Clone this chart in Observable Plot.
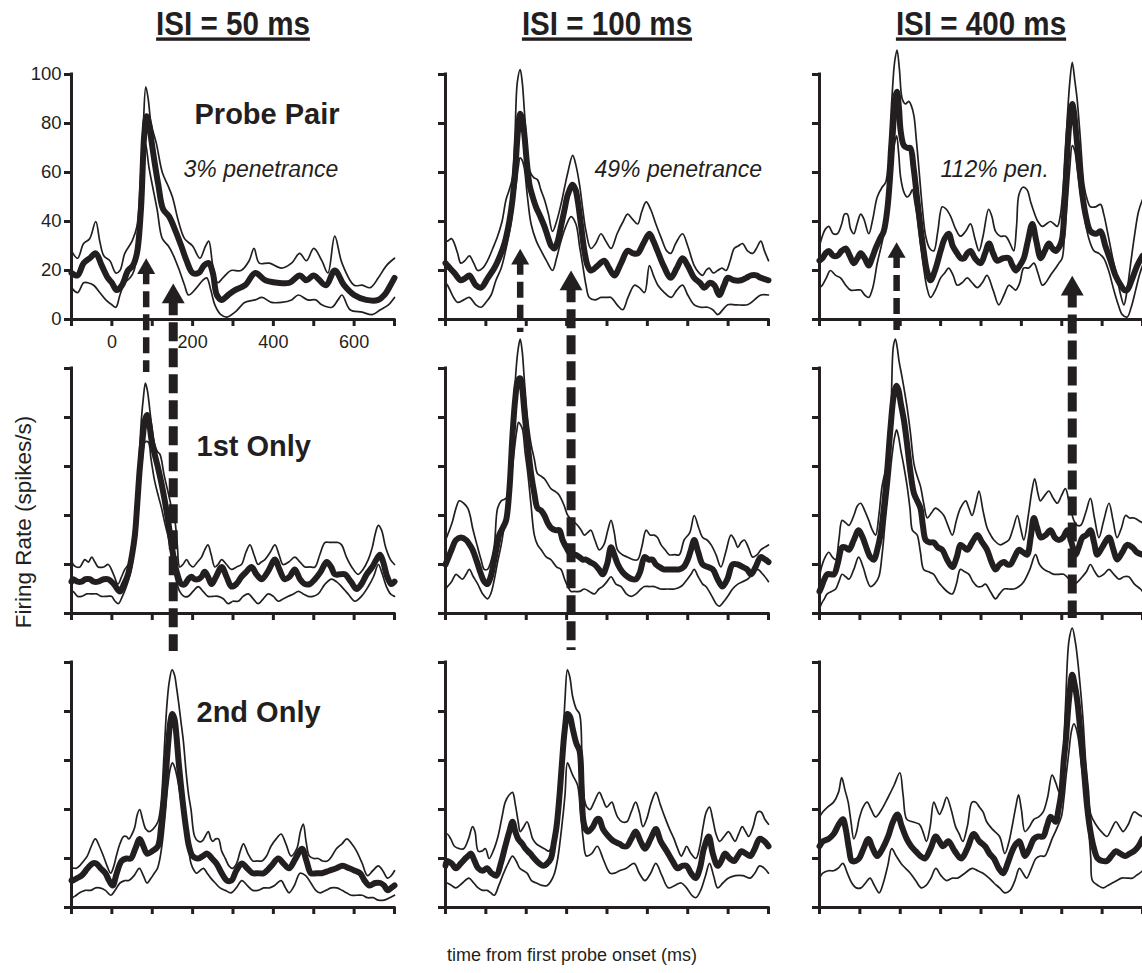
<!DOCTYPE html>
<html><head><meta charset="utf-8">
<script src="https://cdn.jsdelivr.net/npm/d3@7"></script>
<script src="https://cdn.jsdelivr.net/npm/@observablehq/plot@0.6"></script>
<style>
html,body{margin:0;padding:0;background:#fff;}
#chart svg{display:block;}
g[aria-description="isi-title"] text{ text-decoration: underline; text-decoration-thickness: 3px; text-underline-offset: 4px; }
</style></head><body><div id="chart"></div>
<script>
// ---------- categories & ticks ----------
const isiValues = [50, 100, 400];
const conditions = ["Probe Pair", "1st Only", "2nd Only"];
const penetranceLabels = ["3% penetrance", "49% penetrance", "112% pen."];
const xTicks = [-100, 0, 100, 200, 300, 400, 500, 600, 700];
const xTickLabels = [0, 200, 400, 600];
const yTicks = [0, 20, 40, 60, 80, 100];
const xTitle = "time from first probe onset (ms)";
const yTitle = "Firing Rate (spikes/s)";

// ---------- series: [time (ms), firing rate (spikes/s)] ----------
// Probe Pair, ISI 50
const pair50Mean = [[-100,19],[-85,18],[-70,23],[-55,25],[-40,27],[-25,22],[-10,17],[0,15],[12,12],[25,14],[40,20],[52,22],[62,27],[72,45],[80,75],[86,83],[92,80],[98,73],[106,64],[115,55],[127,45],[142,42],[158,36],[172,30],[185,24],[200,19],[215,19],[228,22],[240,23],[250,19],[260,10],[272,8],[288,10],[305,12],[330,14],[355,19],[380,16],[410,15],[440,15],[465,18],[482,16],[500,18],[530,14],[552,20],[575,14],[600,10],[630,8],[660,8],[675,10],[690,14],[700,17]];
const pair50Upper = [[-100,28],[-85,25],[-70,31],[-55,33],[-40,40],[-30,32],[-20,26],[-5,24],[10,19],[20,20],[32,27],[50,32],[62,38],[70,55],[78,80],[84,95],[90,90],[97,80],[110,72],[125,60],[138,55],[150,50],[165,40],[180,33],[200,30],[218,25],[232,30],[240,32],[250,22],[262,15],[275,17],[295,20],[320,20],[340,24],[352,29],[365,23],[390,23],[420,21],[445,23],[465,27],[482,24],[500,29],[520,24],[535,19],[552,34],[570,23],[600,14],[620,14],[640,13],[660,17],[680,22],[700,25]];
const pair50Lower = [[-100,13],[-85,11],[-70,15],[-60,15],[-45,14],[-30,11],[-15,8],[0,6],[10,5],[20,10],[32,15],[45,17],[55,20],[65,33],[75,58],[83,72],[92,62],[100,55],[112,45],[125,33],[140,30],[150,27],[165,21],[180,14],[190,10],[210,13],[225,16],[235,17],[245,12],[255,6],[270,2],[285,1],[305,3],[330,7],[355,8],[372,9],[395,7],[420,7],[445,8],[462,10],[485,8],[505,8],[520,6],[545,5],[560,8],[570,10],[590,4],[620,3],[645,2],[665,4],[685,6],[700,9]];
// Probe Pair, ISI 100
const pair100Mean = [[-100,23],[-95,22],[-78,19],[-62,16],[-50,17],[-41,18],[-25,14],[-12,13],[5,17],[21,21],[35,26],[46,31],[58,40],[66,49],[73,62],[79,76],[85,84],[90,82],[95,76],[101,65],[108,55],[116,50],[124,46],[135,42],[145,38],[155,33],[162,30],[170,29],[178,32],[186,38],[195,45],[203,51],[215,55],[222,53],[228,48],[236,38],[244,28],[252,22],[260,20],[277,22],[293,24],[305,21],[318,18],[335,23],[351,28],[365,27],[376,27],[390,31],[405,35],[415,32],[425,28],[440,22],[458,17],[473,21],[487,25],[500,22],[516,17],[530,15],[541,13],[555,15],[566,14],[578,10],[590,14],[599,17],[615,16],[632,16],[645,17],[657,18],[670,18],[681,17],[700,16]];
const pair100Upper = [[-100,32],[-95,32],[-85,33],[-78,31],[-70,27],[-62,23],[-52,24],[-41,26],[-30,23],[-20,20],[-8,21],[4,24],[17,29],[29,34],[40,40],[50,49],[58,53],[66,58],[72,75],[78,97],[85,102],[90,97],[95,86],[101,72],[108,61],[118,58],[128,57],[136,53],[145,49],[155,43],[165,36],[175,40],[186,47],[195,54],[203,60],[215,67],[223,63],[232,55],[240,45],[248,36],[260,29],[272,31],[285,35],[297,32],[310,29],[325,35],[340,40],[351,43],[363,41],[376,39],[386,44],[397,48],[408,45],[421,39],[435,33],[448,28],[458,27],[470,31],[487,35],[500,30],[516,22],[528,19],[537,18],[545,20],[553,21],[563,19],[574,20],[585,21],[595,20],[605,24],[615,29],[625,30],[636,31],[648,28],[661,27],[670,29],[681,32],[690,28],[700,24]];
const pair100Lower = [[-100,15],[-95,14],[-80,9],[-70,7],[-55,8],[-41,9],[-25,6],[-12,5],[0,7],[13,10],[25,16],[38,21],[50,29],[62,39],[70,50],[75,55],[80,62],[85,66],[90,65],[95,62],[103,50],[112,39],[125,32],[137,28],[150,24],[165,20],[175,25],[186,32],[198,38],[211,42],[223,39],[232,30],[240,22],[248,14],[256,9],[270,8],[285,9],[300,9],[310,9],[325,6],[339,4],[352,9],[368,14],[380,13],[393,11],[405,22],[415,18],[426,14],[442,11],[459,9],[473,12],[487,14],[500,10],[516,6],[532,5],[549,5],[562,4],[574,2],[587,4],[599,6],[620,6],[648,6],[665,8],[681,10],[700,10]];
// Probe Pair, ISI 400
const pair400Mean = [[-100,24],[-93,25],[-85,27],[-77,28],[-66,26],[-56,26],[-45,28],[-35,29],[-25,26],[-15,23],[-6,25],[2,27],[12,25],[22,22],[30,25],[39,29],[50,33],[59,36],[68,45],[76,61],[83,80],[88,91],[92,93],[97,86],[101,77],[109,71],[118,70],[125,70],[133,62],[142,49],[150,38],[158,28],[166,20],[175,16],[186,20],[200,28],[210,33],[220,35],[230,30],[241,27],[250,25],[258,25],[266,27],[274,28],[285,25],[299,23],[310,27],[320,31],[330,27],[340,24],[355,25],[369,25],[378,22],[386,20],[396,22],[406,25],[416,32],[427,39],[437,32],[448,25],[458,28],[468,31],[477,29],[485,28],[495,30],[501,33],[508,50],[514,69],[520,82],[526,88],[530,85],[534,79],[542,65],[551,51],[560,42],[571,36],[585,35],[596,36],[608,30],[621,24],[633,18],[646,14],[655,12],[662,12],[673,16],[687,22],[700,26]];
const pair400Upper = [[-100,30],[-93,34],[-85,37],[-77,38],[-66,35],[-56,35],[-45,39],[-38,43],[-31,43],[-23,37],[-15,35],[-7,39],[2,43],[10,41],[22,35],[32,41],[43,50],[55,54],[64,56],[72,70],[80,92],[86,105],[92,110],[98,102],[105,90],[113,88],[121,89],[128,87],[134,83],[140,73],[146,62],[155,45],[163,34],[173,29],[183,28],[193,36],[204,46],[214,45],[225,42],[237,37],[249,34],[262,36],[274,39],[285,33],[295,28],[305,34],[319,45],[327,42],[336,36],[348,34],[361,34],[372,31],[381,28],[388,38],[394,51],[404,54],[414,53],[423,48],[431,44],[441,40],[452,38],[462,39],[472,40],[481,39],[489,38],[496,42],[501,49],[508,65],[514,83],[520,97],[526,105],[532,98],[538,90],[546,74],[555,55],[563,49],[571,46],[584,46],[596,47],[604,43],[613,36],[625,26],[637,17],[646,10],[654,6],[661,11],[670,22],[680,34],[690,44],[700,49]];
const pair400Lower = [[-100,13],[-93,14],[-83,17],[-73,20],[-60,18],[-48,17],[-35,14],[-23,12],[-10,12],[2,12],[12,10],[22,9],[32,13],[43,23],[53,30],[64,39],[72,52],[80,65],[86,72],[91,75],[96,68],[101,58],[109,52],[117,50],[124,51],[130,53],[136,48],[142,42],[150,31],[158,21],[166,13],[175,9],[187,12],[200,17],[210,19],[220,21],[231,18],[241,14],[253,15],[266,17],[278,15],[291,13],[303,15],[315,18],[330,12],[344,6],[357,10],[369,14],[378,13],[386,12],[396,15],[406,21],[418,21],[431,23],[441,19],[452,14],[460,15],[468,17],[476,19],[485,21],[493,23],[501,25],[507,35],[514,49],[520,62],[526,71],[532,69],[538,62],[546,52],[555,44],[559,39],[569,32],[580,28],[592,27],[604,25],[616,20],[629,12],[640,6],[650,2],[662,1],[672,5],[683,12],[692,18],[700,22]];
// 1st Only, ISI 50
const first50Mean = [[-100,13],[-96,14],[-85,13],[-75,13],[-65,14],[-55,14],[-45,13],[-34,13],[-20,14],[-9,14],[5,12],[20,9],[30,12],[40,16],[50,24],[57,32],[63,45],[69,59],[76,71],[82,79],[87,81],[93,77],[98,71],[106,65],[115,59],[123,53],[131,46],[140,37],[148,28],[156,20],[164,15],[172,12],[181,12],[189,14],[197,15],[205,14],[214,14],[222,15],[230,17],[238,15],[247,12],[258,15],[272,19],[284,15],[296,11],[308,12],[321,15],[333,17],[346,19],[358,16],[371,14],[386,17],[404,22],[415,18],[428,14],[440,15],[453,18],[466,14],[478,12],[490,12],[503,14],[517,17],[532,21],[543,19],[552,16],[565,16],[577,16],[592,13],[606,10],[618,12],[631,16],[645,19],[655,22],[664,24],[672,21],[682,15],[692,12],[700,13]];
const first50Upper = [[-100,22],[-96,20],[-88,19],[-79,19],[-67,22],[-58,21],[-50,23],[-42,21],[-34,19],[-20,19],[-9,20],[4,16],[15,12],[24,15],[32,18],[41,20],[49,23],[55,32],[61,46],[67,62],[73,79],[78,88],[83,94],[88,91],[92,86],[99,76],[106,69],[113,66],[119,65],[130,56],[140,49],[148,43],[156,38],[162,28],[168,19],[176,20],[185,22],[193,20],[201,19],[212,21],[222,23],[230,26],[238,28],[246,24],[255,19],[263,20],[272,22],[284,20],[296,18],[309,19],[321,20],[332,25],[342,28],[352,24],[362,20],[370,21],[379,22],[392,25],[404,28],[414,24],[424,20],[438,21],[453,23],[466,21],[478,19],[490,19],[503,19],[515,24],[528,29],[540,29],[552,29],[560,29],[569,28],[581,23],[594,19],[610,16],[622,18],[635,22],[645,27],[653,33],[660,36],[668,34],[678,27],[690,22],[700,20]];
const first50Lower = [[-100,9],[-96,9],[-85,7],[-75,7],[-62,8],[-50,8],[-38,8],[-26,7],[-12,7],[-1,7],[8,5],[16,4],[26,7],[36,11],[45,16],[53,23],[61,36],[69,52],[76,64],[82,70],[90,70],[97,63],[106,54],[115,48],[123,43],[131,37],[140,31],[146,25],[152,19],[160,13],[168,9],[178,7],[189,7],[201,9],[214,11],[226,9],[238,7],[250,7],[263,7],[276,6],[288,4],[300,5],[313,5],[325,7],[338,8],[350,6],[362,4],[375,6],[387,8],[400,7],[412,5],[425,6],[437,7],[450,8],[462,9],[474,8],[486,7],[498,7],[511,8],[528,12],[544,14],[556,13],[569,11],[585,8],[602,5],[618,7],[635,11],[648,15],[660,20],[668,17],[680,11],[690,8],[700,7]];
// 1st Only, ISI 100
const first100Mean = [[-100,20],[-95,22],[-85,26],[-74,30],[-62,31],[-49,30],[-40,28],[-33,26],[-22,21],[-12,16],[-4,13],[4,12],[12,15],[21,22],[28,28],[33,32],[42,35],[50,38],[58,50],[66,73],[73,88],[79,95],[85,96],[90,92],[95,83],[103,70],[112,57],[120,49],[128,43],[137,42],[145,40],[153,37],[161,35],[172,34],[182,34],[190,30],[199,27],[211,24],[221,24],[232,23],[240,22],[248,22],[258,21],[269,20],[280,18],[289,16],[300,20],[310,27],[318,24],[327,20],[338,17],[351,15],[362,14],[372,14],[382,17],[393,23],[403,22],[413,22],[421,20],[430,19],[440,18],[450,18],[465,18],[479,18],[490,19],[500,22],[508,26],[516,30],[526,25],[537,20],[550,19],[562,18],[574,14],[586,11],[598,14],[611,20],[624,20],[636,19],[647,18],[657,16],[668,19],[681,23],[692,22],[700,21]];
const first100Upper = [[-100,30],[-95,32],[-88,35],[-82,38],[-74,43],[-66,46],[-55,45],[-45,43],[-39,40],[-33,35],[-22,28],[-12,22],[-4,18],[4,18],[12,21],[21,28],[29,43],[38,46],[50,47],[57,53],[62,63],[68,80],[75,100],[80,108],[85,112],[90,107],[95,96],[103,80],[112,69],[120,63],[128,57],[137,56],[145,55],[153,53],[161,51],[170,50],[178,49],[186,47],[194,44],[203,40],[215,38],[227,36],[236,34],[244,32],[252,33],[260,34],[270,30],[281,26],[292,28],[302,34],[310,38],[318,33],[326,26],[338,24],[351,23],[364,22],[376,22],[386,27],[397,34],[407,32],[417,32],[425,31],[434,28],[444,26],[454,24],[467,24],[479,24],[491,30],[505,33],[516,40],[527,35],[537,31],[548,30],[558,28],[570,24],[582,19],[594,25],[607,32],[616,30],[624,27],[632,29],[640,30],[650,27],[661,23],[672,24],[681,26],[690,27],[700,28]];
const first100Lower = [[-100,10],[-95,11],[-85,13],[-74,16],[-66,15],[-58,14],[-49,16],[-41,18],[-31,15],[-20,12],[-8,8],[4,6],[12,8],[21,14],[29,21],[38,28],[46,36],[54,43],[62,54],[70,66],[76,74],[81,78],[86,77],[91,75],[97,66],[104,57],[112,44],[120,32],[128,28],[137,26],[150,23],[161,22],[175,19],[186,18],[195,14],[203,11],[211,9],[219,9],[232,9],[244,10],[256,9],[269,8],[280,10],[289,11],[300,13],[310,15],[322,12],[335,11],[348,8],[360,7],[372,8],[384,10],[393,11],[405,11],[417,11],[433,10],[450,10],[467,10],[483,11],[499,14],[508,16],[516,18],[526,15],[537,12],[545,11],[560,7],[570,4],[578,3],[590,5],[599,7],[611,10],[624,12],[636,13],[648,14],[660,16],[673,18],[686,16],[700,13]];
// 1st Only, ISI 400
const first400Mean = [[-100,9],[-95,11],[-88,14],[-81,16],[-72,16],[-64,16],[-54,21],[-44,27],[-36,27],[-27,26],[-15,30],[-3,34],[7,31],[18,26],[26,23],[35,22],[43,26],[51,32],[60,44],[68,59],[76,76],[84,89],[91,93],[96,91],[101,86],[109,79],[117,69],[125,58],[134,49],[142,46],[150,43],[156,36],[163,30],[173,29],[183,29],[193,27],[204,26],[216,22],[229,19],[240,23],[249,28],[258,27],[266,26],[278,29],[291,32],[303,29],[315,26],[326,21],[336,18],[346,20],[357,21],[365,20],[373,20],[383,23],[394,26],[404,25],[414,24],[423,31],[431,39],[439,35],[448,31],[460,32],[472,34],[483,31],[493,30],[503,31],[514,34],[524,29],[534,24],[542,27],[551,31],[561,32],[571,34],[580,29],[588,24],[600,27],[617,31],[628,26],[637,22],[650,25],[662,28],[675,27],[686,25],[700,24]];
const first400Upper = [[-100,15],[-95,19],[-86,23],[-77,25],[-68,23],[-60,22],[-52,30],[-44,38],[-35,37],[-27,36],[-15,40],[-6,44],[2,45],[12,42],[22,38],[31,34],[39,32],[47,40],[55,52],[63,58],[72,65],[78,88],[83,109],[88,112],[93,108],[97,103],[105,96],[117,84],[125,74],[134,61],[142,56],[150,52],[158,45],[167,39],[177,41],[187,43],[197,42],[208,40],[218,36],[229,32],[239,38],[249,43],[262,46],[270,43],[278,40],[287,45],[295,50],[305,42],[315,35],[324,32],[332,30],[348,28],[360,29],[369,30],[380,35],[390,40],[398,35],[406,30],[418,41],[426,50],[433,55],[441,49],[447,46],[457,48],[468,50],[479,47],[489,45],[499,48],[509,51],[520,44],[530,38],[538,36],[547,36],[559,41],[571,47],[581,39],[592,31],[604,38],[617,45],[627,38],[637,31],[648,35],[658,40],[668,39],[679,39],[690,38],[700,37]];
const first400Lower = [[-100,2],[-95,4],[-88,6],[-81,8],[-70,9],[-60,10],[-52,13],[-44,16],[-35,15],[-27,14],[-15,18],[-3,23],[8,19],[17,14],[26,11],[36,12],[47,15],[55,24],[63,38],[72,52],[80,65],[86,72],[91,75],[96,72],[101,67],[109,60],[117,52],[124,43],[130,34],[136,33],[142,32],[150,25],[158,18],[170,17],[183,16],[194,13],[204,11],[216,9],[229,8],[239,12],[249,18],[260,17],[270,16],[280,13],[291,11],[301,11],[311,12],[323,9],[336,6],[346,8],[357,10],[369,10],[381,10],[394,11],[406,13],[421,18],[435,24],[445,20],[456,18],[468,17],[481,16],[493,16],[505,16],[518,14],[530,12],[540,13],[551,15],[561,17],[571,20],[582,17],[592,15],[604,16],[617,18],[629,16],[642,14],[654,15],[666,15],[680,12],[695,10],[700,9]];
// 2nd Only, ISI 50
const second50Mean = [[-100,11],[-97,11],[-86,12],[-75,13],[-60,16],[-48,18],[-39,18],[-28,16],[-16,14],[-7,11],[2,9],[12,14],[24,19],[36,20],[47,20],[58,24],[69,28],[78,25],[87,22],[100,23],[114,25],[122,33],[128,42],[134,55],[140,68],[145,76],[150,79],[155,77],[160,70],[165,60],[171,50],[177,41],[184,32],[191,25],[200,21],[214,20],[225,21],[236,22],[248,20],[259,18],[272,14],[285,11],[296,11],[308,15],[322,18],[335,16],[349,14],[362,14],[376,14],[395,17],[412,20],[425,18],[439,16],[455,20],[471,24],[482,19],[493,14],[507,14],[520,14],[538,15],[556,16],[571,17],[588,16],[602,15],[615,14],[626,11],[638,9],[652,10],[665,10],[674,9],[683,7],[692,8],[700,9]];
const second50Upper = [[-100,15],[-97,16],[-88,16],[-80,17],[-70,19],[-61,21],[-51,25],[-41,28],[-31,25],[-21,21],[-12,17],[-3,14],[5,17],[11,21],[20,26],[29,29],[36,29],[42,28],[50,30],[57,33],[63,38],[69,40],[76,36],[84,32],[92,31],[102,32],[114,35],[120,40],[124,47],[130,65],[136,82],[142,92],[149,97],[155,95],[160,90],[165,84],[171,76],[177,68],[184,55],[190,46],[196,40],[205,29],[214,27],[223,27],[231,29],[239,31],[245,28],[250,27],[257,28],[264,28],[272,23],[281,20],[290,17],[299,16],[309,18],[318,23],[326,26],[337,22],[349,19],[360,19],[372,19],[383,21],[394,25],[407,28],[419,30],[431,26],[444,21],[458,24],[467,31],[474,34],[481,27],[489,21],[500,20],[511,20],[522,19],[534,19],[545,21],[556,24],[570,26],[582,28],[594,26],[606,23],[620,18],[633,13],[646,15],[660,17],[671,15],[683,12],[692,13],[700,15]];
const second50Lower = [[-100,3],[-97,4],[-88,5],[-80,6],[-66,7],[-52,7],[-40,8],[-30,8],[-16,7],[-3,5],[8,7],[20,10],[32,11],[42,11],[55,13],[68,16],[78,13],[87,10],[97,12],[105,14],[113,16],[119,20],[126,28],[132,38],[138,49],[145,57],[150,59],[156,57],[163,52],[169,46],[175,39],[183,30],[190,24],[196,18],[204,15],[209,14],[218,15],[227,16],[236,14],[245,12],[256,10],[268,8],[281,7],[295,6],[308,8],[322,11],[335,9],[349,7],[362,7],[376,8],[390,8],[403,9],[419,11],[430,8],[439,6],[452,9],[466,14],[480,13],[493,10],[505,7],[516,6],[530,7],[543,8],[557,8],[570,7],[581,6],[593,5],[606,5],[620,5],[633,4],[647,4],[660,3],[674,3],[688,4],[700,5]];
// 2nd Only, ISI 100
const second100Mean = [[-100,17],[-96,19],[-85,18],[-74,16],[-62,18],[-51,20],[-44,21],[-37,22],[-28,19],[-19,16],[-8,15],[3,16],[14,14],[26,13],[37,18],[48,25],[58,31],[66,35],[73,31],[80,28],[90,26],[98,24],[110,22],[120,20],[132,18],[143,17],[152,18],[161,20],[168,26],[175,33],[182,45],[188,58],[195,72],[202,79],[208,78],[215,73],[224,67],[232,64],[237,50],[241,36],[247,32],[254,31],[265,33],[275,36],[281,36],[290,32],[304,29],[317,27],[331,26],[340,25],[349,25],[360,28],[371,31],[383,27],[394,24],[408,28],[421,32],[433,27],[448,23],[462,19],[475,16],[486,17],[497,17],[508,14],[520,12],[530,16],[540,24],[552,29],[562,22],[574,17],[583,19],[592,22],[604,20],[615,19],[624,21],[633,23],[644,22],[655,21],[666,24],[678,28],[690,27],[700,25]];
const second100Upper = [[-100,29],[-96,30],[-87,28],[-78,25],[-66,24],[-55,24],[-43,28],[-33,33],[-27,31],[-19,23],[-10,23],[-1,24],[8,20],[18,23],[30,29],[40,37],[48,43],[58,46],[66,47],[73,42],[80,35],[85,31],[94,33],[102,35],[109,32],[116,28],[125,26],[134,25],[145,24],[156,23],[163,25],[170,28],[177,36],[184,47],[190,64],[196,85],[202,97],[208,94],[215,86],[224,81],[232,79],[238,62],[243,45],[250,41],[258,40],[268,43],[281,47],[290,44],[299,41],[312,43],[319,40],[326,37],[337,35],[349,35],[360,39],[371,43],[380,39],[389,33],[398,36],[410,43],[421,47],[432,42],[443,37],[455,32],[466,28],[475,24],[484,21],[491,23],[497,25],[508,22],[520,20],[530,25],[538,33],[546,39],[554,41],[562,36],[570,30],[579,27],[590,29],[601,31],[609,29],[617,27],[626,30],[635,33],[643,31],[651,29],[662,33],[673,39],[682,39],[691,36],[700,34]];
const second100Lower = [[-100,10],[-96,10],[-85,9],[-74,8],[-58,10],[-42,12],[-30,10],[-19,8],[-8,7],[3,7],[12,6],[21,5],[32,9],[44,14],[55,18],[66,21],[75,19],[84,16],[93,15],[102,14],[113,11],[125,10],[138,9],[152,9],[162,11],[170,14],[178,20],[188,33],[196,46],[202,59],[208,57],[215,54],[227,50],[234,40],[241,28],[249,21],[262,22],[276,25],[290,20],[300,16],[308,14],[319,14],[331,15],[348,16],[367,18],[380,14],[394,11],[408,14],[421,18],[436,13],[452,8],[468,9],[484,10],[497,8],[510,5],[520,4],[532,7],[544,13],[554,18],[564,13],[574,8],[587,10],[601,12],[618,13],[637,13],[655,12],[666,14],[678,17],[690,16],[700,14]];
// 2nd Only, ISI 400
const second400Mean = [[-100,25],[-92,27],[-78,28],[-65,30],[-52,34],[-42,36],[-35,32],[-27,24],[-20,19],[-10,19],[-2,20],[9,24],[21,28],[32,24],[43,21],[56,24],[70,29],[82,35],[93,38],[104,33],[116,28],[127,25],[138,23],[150,21],[161,20],[175,24],[188,29],[197,27],[206,25],[219,27],[235,23],[251,20],[266,24],[282,30],[296,27],[310,25],[321,22],[332,20],[344,16],[355,14],[366,18],[377,23],[387,26],[395,27],[402,24],[409,21],[420,24],[431,28],[442,29],[454,29],[463,33],[472,37],[479,36],[485,35],[492,40],[499,47],[505,60],[510,68],[518,85],[526,95],[532,91],[538,85],[545,74],[551,64],[557,52],[563,41],[571,31],[580,24],[589,20],[600,19],[612,19],[623,21],[634,23],[645,22],[657,21],[668,22],[679,23],[690,25],[700,28]];
const second400Upper = [[-100,37],[-92,39],[-80,41],[-65,43],[-53,47],[-45,53],[-37,48],[-29,43],[-22,35],[-15,28],[-8,31],[-2,36],[8,41],[18,43],[28,40],[39,37],[54,40],[70,45],[85,50],[99,55],[107,46],[116,36],[130,35],[147,34],[156,31],[165,27],[174,33],[183,43],[191,40],[197,38],[206,41],[215,45],[226,40],[237,33],[246,30],[255,27],[266,33],[278,43],[287,43],[296,41],[305,39],[314,35],[328,32],[346,29],[359,22],[368,26],[377,33],[386,41],[393,46],[400,40],[409,31],[420,33],[431,36],[443,37],[454,39],[465,45],[476,54],[485,51],[494,47],[500,52],[505,66],[510,85],[518,109],[526,114],[534,108],[540,100],[547,88],[553,76],[559,60],[566,48],[572,38],[584,34],[598,31],[612,29],[623,32],[634,35],[643,33],[652,31],[665,34],[679,39],[690,38],[700,37]];
const second400Lower = [[-100,12],[-92,14],[-78,15],[-65,15],[-54,16],[-42,18],[-31,14],[-20,10],[-9,8],[3,8],[14,10],[25,12],[36,9],[48,6],[58,10],[69,17],[79,24],[90,21],[102,18],[113,16],[125,14],[138,11],[152,8],[164,9],[176,12],[188,16],[201,13],[215,11],[229,12],[242,12],[260,14],[278,16],[292,15],[305,14],[320,12],[332,10],[346,8],[359,6],[372,7],[384,11],[395,16],[404,14],[413,12],[425,16],[436,20],[447,21],[458,21],[467,24],[476,28],[487,32],[499,37],[505,44],[511,54],[518,64],[524,72],[530,75],[536,73],[542,68],[548,59],[555,50],[561,40],[567,31],[572,20],[576,11],[590,9],[603,8],[614,9],[625,10],[637,11],[648,12],[661,12],[675,12],[684,13],[693,14],[700,15]];

// ---------- arrows (times in ms; extents in Probe-Pair panel units) ----------
const arrowISI  = [50, 50, 100, 100, 400, 400];
const arrowTime = [85, 152, 85, 211, 91, 526];
const arrowHead = [20.7, 9.3, 24.6, 14.6, 27.3, 12.5];
const arrowEnd  = [-21.6, -135.5, -5.3, -135.1, -4.5, -122];
const arrowKind = ["first", "second", "first", "second", "first", "second"];

// ---------- assemble ----------
const panelSeries = [
  [50, "Probe Pair", pair50Mean, pair50Upper, pair50Lower],
  [100, "Probe Pair", pair100Mean, pair100Upper, pair100Lower],
  [400, "Probe Pair", pair400Mean, pair400Upper, pair400Lower],
  [50, "1st Only", first50Mean, first50Upper, first50Lower],
  [100, "1st Only", first100Mean, first100Upper, first100Lower],
  [400, "1st Only", first400Mean, first400Upper, first400Lower],
  [50, "2nd Only", second50Mean, second50Upper, second50Lower],
  [100, "2nd Only", second100Mean, second100Upper, second100Lower],
  [400, "2nd Only", second400Mean, second400Upper, second400Lower]
];
const rows = panelSeries.flatMap(([isi, cond, m, u, l]) => [
  ...m.map(([t, v]) => ({isi, cond, series: "mean", t, v})),
  ...u.map(([t, v]) => ({isi, cond, series: "upper", t, v})),
  ...l.map(([t, v]) => ({isi, cond, series: "lower", t, v}))
]);
const arrows = arrowISI.map((isi, i) => ({isi, t: arrowTime[i], head: arrowHead[i], end: arrowEnd[i], kind: arrowKind[i]}));

const ink = "#231f20";
const sans = "'Liberation Sans', Arial, Helvetica, sans-serif";
const topLeft = {fx: () => isiValues[0], fy: () => conditions[0]};

const annot = (label, isi, cond, dx, dy, extra) =>
  Plot.text([label], {fx: () => isi, fy: () => cond, frameAnchor: "top-left", textAnchor: "start", lineAnchor: "middle", dx, dy, fill: ink, fontFamily: sans, ...extra});

const chart = Plot.plot({
  width: 1142, height: 973,
  marginLeft: 70, marginRight: 0, marginTop: 74, marginBottom: 66,
  facet: {marginTop: 0, marginRight: 0, marginBottom: 0, marginLeft: 0},
  x: {domain: [-100, 700], axis: null},
  y: {domain: [0, 100], axis: null},
  fx: {domain: isiValues, paddingInner: 0.1375, paddingOuter: 0, axis: null},
  fy: {domain: conditions, paddingInner: 0.1667, paddingOuter: 0, axis: null},
  style: {fontFamily: sans, color: ink, background: "white", overflow: "visible"},
  marks: [
    Plot.line(rows.filter(d => d.series !== "mean"), {x: "t", y: "v", z: "series", fx: "isi", fy: "cond", stroke: ink, strokeWidth: 1.7, curve: "catmull-rom"}),
    Plot.line(rows.filter(d => d.series === "mean"), {x: "t", y: "v", fx: "isi", fy: "cond", stroke: ink, strokeWidth: 6, curve: "catmull-rom"}),
    Plot.ruleX([-100], {stroke: ink, strokeWidth: 3, strokeLinecap: "square"}),
    Plot.ruleY([0], {stroke: ink, strokeWidth: 3, strokeLinecap: "square"}),
    Plot.axisX(xTicks, {facetAnchor: null, tickSize: 7, strokeWidth: 3, stroke: ink, fill: "none", label: null}),
    Plot.axisY(yTicks, {facetAnchor: null, tickSize: 7, strokeWidth: 3, stroke: ink, fill: "none", label: null}),
    Plot.text(xTickLabels, {x: d => d, ...topLeft, frameAnchor: "bottom", dy: 23, lineAnchor: "middle", fontSize: 18, fill: ink}),
    Plot.text(yTicks, {y: d => d, ...topLeft, frameAnchor: "left", dx: -10, textAnchor: "end", lineAnchor: "middle", fontSize: 18.5, fill: ink}),
    Plot.text(isiValues, {fx: d => d, fy: () => conditions[0], frameAnchor: "top", dy: -50, lineAnchor: "middle", textAnchor: "middle", text: d => `ISI = ${d} ms`, fontSize: 34, fontWeight: "bold", fontFamily: sans, fill: ink, ariaDescription: "isi-title"}),
    annot(conditions[0], isiValues[0], conditions[0], 123, 40, {fontSize: 29, fontWeight: "bold"}),
    annot(conditions[1], isiValues[0], conditions[1], 125, 78, {fontSize: 29, fontWeight: "bold"}),
    annot(conditions[2], isiValues[0], conditions[2], 125, 50, {fontSize: 29, fontWeight: "bold"}),
    annot(penetranceLabels[0], isiValues[0], conditions[0], 112, 95, {fontSize: 23, fontStyle: "italic"}),
    annot(penetranceLabels[1], isiValues[1], conditions[0], 149, 95, {fontSize: 23, fontStyle: "italic"}),
    annot(penetranceLabels[2], isiValues[2], conditions[0], 121, 95, {fontSize: 23, fontStyle: "italic"}),
    Plot.text([yTitle], {fx: () => isiValues[0], fy: () => conditions[1], frameAnchor: "left", textAnchor: "middle", rotate: -90, dx: -48, dy: 31, fontSize: 22.5, fill: ink}),
    Plot.text([xTitle], {fx: () => isiValues[1], fy: () => conditions[2], frameAnchor: "bottom", textAnchor: "middle", dx: -35, dy: 48, lineAnchor: "middle", fontSize: 18, fill: ink}),
    Plot.ruleX(arrows.filter(d => d.kind === "first"), {x: "t", y1: "head", y2: "end", fx: "isi", fy: () => conditions[0], stroke: ink, strokeWidth: 6.5, strokeDasharray: "16,7"}),
    Plot.ruleX(arrows.filter(d => d.kind === "second"), {x: "t", y1: "head", y2: "end", fx: "isi", fy: () => conditions[0], stroke: ink, strokeWidth: 9, strokeDasharray: "19,7"}),
    Plot.dot(arrows.filter(d => d.kind === "first"), {x: "t", y: "head", fx: "isi", fy: () => conditions[0], symbol: "triangle", r: 6.7, fill: ink, stroke: "none"}),
    Plot.dot(arrows.filter(d => d.kind === "second"), {x: "t", y: "head", fx: "isi", fy: () => conditions[0], symbol: "triangle", r: 8.5, fill: ink, stroke: "none"})
  ]
});
document.getElementById("chart").appendChild(chart);
// condensed look of the column titles (the original uses a narrow bold face)
d3.select(chart).selectAll('g[aria-description="isi-title"] text').each(function () {
  const w = this.getComputedTextLength();
  this.setAttribute("textLength", (w * 0.87).toFixed(1));
  this.setAttribute("lengthAdjust", "spacingAndGlyphs");
});
</script>
</body></html>
